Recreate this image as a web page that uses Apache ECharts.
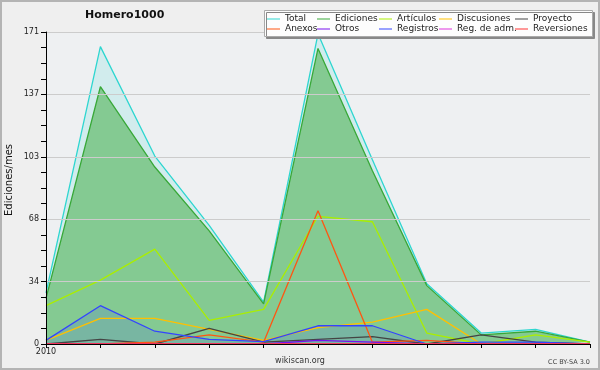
<!DOCTYPE html>
<html><head><meta charset="utf-8">
<script src="https://cdn.jsdelivr.net/npm/echarts@6/dist/echarts.min.js"></script>
<style>html,body{margin:0;padding:0;background:#efefef}#c{width:600px;height:370px}</style>
</head><body><div id="c"></div>
<script>
const months = ['2010-01','2010-02','2010-03','2010-04','2010-05','2010-06','2010-07','2010-08','2010-09','2010-10','2010-11'];
const xTickLabels = ['2010','','','','','','','','','',''];
const yTickLabels = ['0','34','68','103','137','171'];
const total       = [28, 163, 103, 65, 23, 170, 101, 33, 6, 8, 1];
const ediciones   = [25, 141, 97, 62, 22, 162, 95, 32, 5, 7, 1];
const articulos   = [21, 35, 52, 13, 19, 70, 67, 6, 0, 5, 1];
const discusiones = [2, 14, 14, 8, 2, 9, 12, 19, 0, 0, 0];
const proyecto    = [0, 2.5, 0, 8.5, 1, 2.5, 4, 0, 5, 1, 0];
const anexos      = [0, 0, 1, 5, 1, 73, 1, 2, 0, 0, 0];
const otros       = [0, 0, 0, 0, 0, 2, 1, 0, 0, 0, 0];
const registros   = [2, 21, 7, 2.5, 1.3, 10, 10, 0, 1, 1, 0];
const regAdm      = [0, 0, 0, 0, 0, 0, 0, 0, 0, 0, 0];
const reversiones = [0, 0, 0, 0, 0, 0, 0, 0, 0, 0, 0];

const FONT = 'DejaVu Sans';
const chart = echarts.init(document.getElementById('c'), null, {renderer:'canvas'});

function mk(name, data, color, area, areaOpacity){
  const s = {name, type:'line', data, symbol:'none', smooth:false,
    lineStyle:{color, width:1.3}, itemStyle:{color}, emphasis:{disabled:true}};
  if (area) s.areaStyle = {color, opacity: areaOpacity};
  return s;
}
const series = [
  mk('Total', total, '#2ed6d0', true, 0.15),
  mk('Ediciones', ediciones, '#38a838', true, 0.5),
  mk('Artículos', articulos, '#aaee00'),
  mk('Discusiones', discusiones, '#ffc000'),
  mk('Proyecto', proyecto, '#444444'),
  mk('Anexos', anexos, '#ff5511'),
  mk('Otros', otros, '#7711ee'),
  mk('Registros', registros, '#3344ff', true, 0.15),
  mk('Reg. de adm.', regAdm, '#dd33dd'),
  mk('Reversiones', reversiones, '#ff3333')
];

const cols = [[267,['Total','Anexos']],[317,['Ediciones','Otros']],[379,['Artículos','Registros']],[439,['Discusiones','Reg. de adm.']],[515,['Proyecto','Reversiones']]];
const legends = cols.map(([l, d]) => ({
  data: d, left: l, top: 14, orient:'vertical', icon:'rect', itemWidth:13, itemHeight:1,
  itemGap: 0, padding: 0, z: 20, selectedMode:false,
  textStyle:{fontFamily:FONT, fontSize:9, color:'#222', lineHeight:10, padding:[0,0,0,0]}
}));

chart.setOption({
  backgroundColor:'#efefef',
  animation:false,
  title:{text:'Homero1000', left:85, top:10, padding:0,
    textStyle:{fontFamily:FONT, fontSize:11, fontWeight:'bold', color:'#111'}},
  legend: legends,
  grid:{left:46, right:10, top:32, bottom:26, show:true, backgroundColor:'#eef0f2', borderWidth:0, containLabel:false},
  xAxis:{type:'category', data:months, boundaryGap:false, z:10,
    axisLine:{lineStyle:{color:'#000', width:1}},
    axisTick:{show:true, length:4, interval:0, alignWithLabel:true, lineStyle:{color:'#000'}},
    axisLabel:{interval:0, margin:4, fontFamily:FONT, fontSize:8, color:'#222',
      formatter:(v,i)=>xTickLabels[i]},
    splitLine:{show:false}},
  yAxis:{type:'value', min:0, max:171, interval:34.2, z:10,
    axisLine:{show:true, lineStyle:{color:'#000', width:1}},
    axisTick:{show:true, length:5, lineStyle:{color:'#000'}},
    minorTick:{show:true, splitNumber:4, length:5, lineStyle:{color:'#000'}},
    axisLabel:{margin:7, fontFamily:FONT, fontSize:8, color:'#222',
      formatter:(v)=>{const i=Math.round(v/34.2); return yTickLabels[i]!==undefined?yTickLabels[i]:'';}},
    splitLine:{show:true, lineStyle:{color:'#cccccc', width:1}}},
  series,
  graphic:[
    {type:'rect', z:0, silent:true, shape:{x:1, y:1, width:598, height:368},
      style:{fill:'none', stroke:'#b4b4b4', lineWidth:2}},
    {type:'rect', z:15, silent:true, shape:{x:264.5, y:10.5, width:328, height:26},
      style:{fill:'#fdfdfd', stroke:'#aaaaaa', lineWidth:1, shadowColor:'#888', shadowOffsetX:2, shadowOffsetY:2, shadowBlur:0}},
    {type:'text', z:15, silent:true, x:9, y:180, rotation:Math.PI/2,
      style:{text:'Ediciones/mes', fontFamily:FONT, fontSize:10, fill:'#111', align:'center', verticalAlign:'middle'}},
    {type:'text', z:15, silent:true, x:300, y:361,
      style:{text:'wikiscan.org', fontFamily:FONT, fontSize:8, fill:'#333', align:'center', verticalAlign:'middle'}},
    {type:'text', z:15, silent:true, x:590, y:362,
      style:{text:'CC BY-SA 3.0', fontFamily:FONT, fontSize:6.5, fill:'#444', align:'right', verticalAlign:'middle'}}
  ]
});
</script></body></html>
